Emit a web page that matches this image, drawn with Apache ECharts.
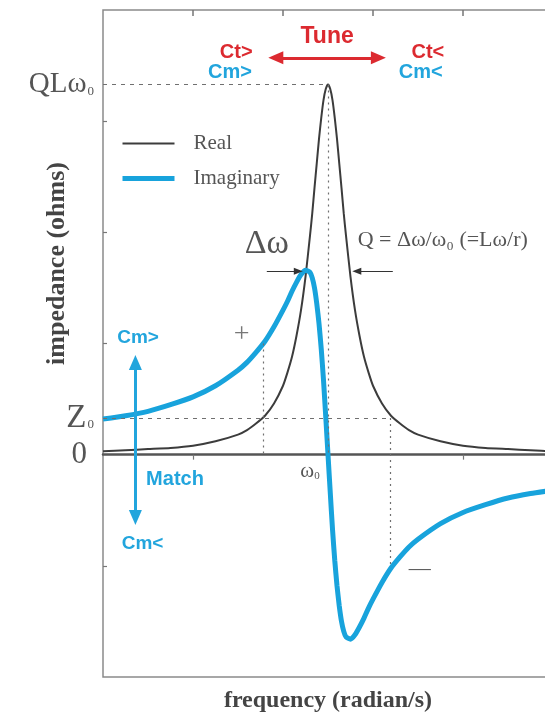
<!DOCTYPE html>
<html>
<head>
<meta charset="utf-8">
<script src="https://cdn.jsdelivr.net/npm/echarts@6/dist/echarts.min.js"></script>
<style>
  html, body { margin: 0; padding: 0; background: #ffffff; }
  #chart { width: 545px; height: 715px; }
</style>
</head>
<body>
<div id="chart"></div>
<script>
// Frequency samples (axis units) and the two impedance components
const freq = [0, 0.25, 0.5, 0.75, 1.0, 1.25, 1.5, 1.6, 1.7, 1.8, 1.9, 2.0, 2.05, 2.1, 2.15, 2.2, 2.25, 2.3, 2.325, 2.35, 2.375, 2.4, 2.425, 2.45, 2.475, 2.5,
              2.525, 2.55, 2.575, 2.6, 2.625, 2.65, 2.675, 2.7, 2.75, 2.8, 2.85, 2.9, 2.95, 3.0, 3.1, 3.2, 3.3, 3.4, 3.5, 3.75, 4.0, 4.25, 4.5, 4.75, 5.0];
const realPart = [0.03, 0.04, 0.05, 0.06, 0.08, 0.12, 0.18, 0.22, 0.28, 0.35, 0.46, 0.62, 0.74, 0.88, 1.07, 1.30, 1.60, 1.97, 2.17, 2.40, 2.62, 2.84, 3.03, 3.19, 3.29, 3.33,
                  3.29, 3.19, 3.03, 2.84, 2.62, 2.40, 2.17, 1.97, 1.60, 1.30, 1.07, 0.88, 0.74, 0.62, 0.46, 0.35, 0.28, 0.22, 0.18, 0.12, 0.08, 0.06, 0.05, 0.04, 0.03];
const imagPart = [0.32, 0.35, 0.39, 0.45, 0.52, 0.62, 0.76, 0.83, 0.92, 1.02, 1.15, 1.30, 1.38, 1.47, 1.55, 1.62, 1.66, 1.64, 1.59, 1.50, 1.36, 1.18, 0.95, 0.67, 0.34, 0,
                  -0.34, -0.67, -0.95, -1.18, -1.36, -1.50, -1.59, -1.64, -1.66, -1.62, -1.55, -1.47, -1.38, -1.30, -1.15, -1.02, -0.92, -0.83, -0.76, -0.62, -0.52, -0.45, -0.39, -0.35, -0.32];

// Reference levels
const peakFreq = 2.5;      // ω0
const QL = 3.33;           // QLω0 level
const Z0 = 0.33;           // Z0 level
const halfMax = 1.65;      // level of the Δω arrows
const lowCross = 1.78;     // where Re(Z) = Z0, below ω0
const highCross = 3.19;    // where Re(Z) = Z0, above ω0
const imagAtLow = 1.0;
const imagAtHigh = -1.0;

// Axis ticks and labels
const yLabelValues = [0, Z0, QL];
const yLabelText = ['{z|0}', '{m|Z}{s|0}', '{q|QLω}{s|0}'];
const yTickValues = [-1, 1, 2, 3];
const topTickValues = [1, 2, 3, 4];
const zeroTickValues = [1, 4];

const RED = '#dc2a30';
const BLUE = '#22a5dd';
const CURVE_BLUE = '#18a3dc';
const SERIF = '"Liberation Serif", "DejaVu Serif", serif';
const SANS = '"Liberation Sans", Arial, sans-serif';

const chart = echarts.init(document.getElementById('chart'), null, { renderer: 'canvas' });

const guide = (a, b, type) => [
  { coord: a, symbol: 'none', lineStyle: { color: '#707070', width: 1.2, type: type } },
  { coord: b, symbol: 'none' }
];
const arrow = (a, b, color, width, size, both) => [
  { coord: a, symbol: both ? 'triangle' : 'none', symbolSize: size, lineStyle: { color: color, width: width, type: 'solid' }, itemStyle: { color: color } },
  { coord: b, symbol: 'triangle', symbolSize: size, itemStyle: { color: color } }
];

const option = {
  backgroundColor: '#ffffff',
  animation: false,
  grid: {
    left: 103, right: -8, top: 10, bottom: 38,
    show: true, borderColor: '#8a8a8a', borderWidth: 1.5,
    backgroundColor: 'transparent',
    containLabel: false, outerBoundsMode: 'none'
  },
  legend: {
    left: 115, top: 128, orient: 'vertical',
    itemWidth: 52, itemHeight: 14, itemGap: 14,
    selectedMode: false,
    itemStyle: { opacity: 0 },
    lineStyle: { width: 'inherit' },
    textStyle: { fontFamily: SERIF, fontSize: 21, color: '#555', padding: [0, 0, 0, 14] },
    data: ['Real', 'Imaginary']
  },
  xAxis: [
    {
      type: 'value', min: 0, max: 5, interval: 1,
      axisLine: { onZero: true, lineStyle: { color: '#555', width: 2.5 } },
      axisTick: { show: true, customValues: zeroTickValues, inside: false, length: 5, lineStyle: { color: '#777', width: 1.2 } },
      axisLabel: { show: false },
      splitLine: { show: false }
    },
    {
      type: 'value', min: 0, max: 5, interval: 1, position: 'top',
      axisLine: { show: false, onZero: false },
      axisTick: { show: true, customValues: topTickValues, inside: true, length: 6, lineStyle: { color: '#777', width: 1.5 } },
      axisLabel: { show: false },
      splitLine: { show: false }
    }
  ],
  yAxis: {
    type: 'value', min: -2, max: 4, interval: 1,
    axisLine: { show: false, onZero: false },
    axisTick: { show: true, customValues: yTickValues, inside: true, length: 4, lineStyle: { color: '#777', width: 1.2 } },
    axisLabel: {
      show: true, customValues: yLabelValues, margin: 9,
      formatter: (v) => yLabelText[yLabelValues.indexOf(v)] || '',
      rich: {
        q: { fontFamily: SERIF, fontSize: 29, color: '#555' },
        m: { fontFamily: SERIF, fontSize: 33, color: '#555' },
        z: { fontFamily: SERIF, fontSize: 31, color: '#555', padding: [0, 7, 0, 0] },
        s: { fontFamily: SERIF, fontSize: 13, color: '#555', padding: [14, 0, 0, 1] }
      }
    },
    splitLine: { show: false }
  },
  series: [
    {
      name: 'Real', type: 'line', xAxisIndex: 0, yAxisIndex: 0,
      data: freq.map((f, i) => [f, realPart[i]]),
      symbol: 'none', smooth: 0.2, z: 3,
      lineStyle: { color: '#3c3c3c', width: 2 },
      itemStyle: { color: '#3c3c3c' },
      markLine: {
        silent: true, label: { show: false }, animation: false,
        data: [
          guide([0, QL], [peakFreq, QL], [4, 5]),
          guide([peakFreq, QL], [peakFreq, 0], [2, 4]),
          guide([0, Z0], [highCross, Z0], [4, 5]),
          guide([lowCross, imagAtLow], [lowCross, 0], [2, 4]),
          guide([highCross, Z0], [highCross, imagAtHigh], [2, 4]),
          arrow([1.82, halfMax], [2.17, halfMax], '#333', 1, [7, 9], false),
          arrow([3.22, halfMax], [2.82, halfMax], '#333', 1, [7, 9], false),
          arrow([1.92, 3.57], [3.06, 3.57], RED, 3, [13, 15], true),
          arrow([0.36, 0.83], [0.36, -0.565], BLUE, 3, [13, 15], true)
        ]
      }
    },
    {
      name: 'Imaginary', type: 'line', xAxisIndex: 0, yAxisIndex: 0,
      data: freq.map((f, i) => [f, imagPart[i]]),
      symbol: 'none', smooth: 0.2, z: 4,
      lineStyle: { color: CURVE_BLUE, width: 5 },
      itemStyle: { color: CURVE_BLUE }
    }
  ]
};
chart.setOption(option);

// Text annotations, anchored in data coordinates
const notes = [
  { text: 'Tune', x: 2.49, y: 3.76, font: 'bold 23px ' + SANS, color: RED },
  { text: 'Ct>', x: 1.48, y: 3.62, font: 'bold 20px ' + SANS, color: RED },
  { text: 'Cm>', x: 1.41, y: 3.44, font: 'bold 20px ' + SANS, color: BLUE },
  { text: 'Ct<', x: 3.61, y: 3.62, font: 'bold 20px ' + SANS, color: RED },
  { text: 'Cm<', x: 3.53, y: 3.44, font: 'bold 20px ' + SANS, color: BLUE },
  { text: 'Cm>', x: 0.39, y: 1.05, font: 'bold 19px ' + SANS, color: BLUE },
  { text: 'Match', x: 0.8, y: -0.22, font: 'bold 20px ' + SANS, color: BLUE },
  { text: 'Cm<', x: 0.44, y: -0.8, font: 'bold 19px ' + SANS, color: BLUE },
  { text: 'Δω', x: 1.82, y: 1.89, font: '34px ' + SERIF, color: '#555' },
  { text: 'Q = Δω/ω₀ (=Lω/r)', x: 2.83, y: 1.93, font: '22px ' + SERIF, color: '#555', align: 'left' },
  { text: '+', x: 1.54, y: 1.08, font: '28px ' + SERIF, color: '#777' },
  { text: '—', x: 3.52, y: -1.03, font: '22px ' + SERIF, color: '#555' },
  { rich: '{a|ω}{b|0}', x: 2.3, y: -0.15, color: '#555' },
  { text: 'frequency (radian/s)', x: 2.5, y: -2.215, font: 'bold 24px ' + SERIF, color: '#444' },
  { text: 'impedance (ohms)', x: -0.51, y: 1.72, font: 'bold 26px ' + SERIF, color: '#444', rotate: true }
];

chart.setOption({
  graphic: notes.map((n) => {
    const p = chart.convertToPixel({ gridIndex: 0 }, [n.x, n.y]);
    const style = n.rich
      ? {
          text: n.rich, fill: n.color, align: 'center', verticalAlign: 'middle',
          rich: {
            a: { fontFamily: SERIF, fontSize: 21, color: n.color },
            b: { fontFamily: SERIF, fontSize: 11, color: n.color, padding: [10, 0, 0, 0] }
          }
        }
      : { text: n.text, font: n.font, fill: n.color, align: n.align || 'center', verticalAlign: 'middle' };
    return {
      type: 'text', x: p[0], y: p[1], rotation: n.rotate ? Math.PI / 2 : 0,
      silent: true, z: 100, style: style
    };
  })
});
</script>
</body>
</html>
